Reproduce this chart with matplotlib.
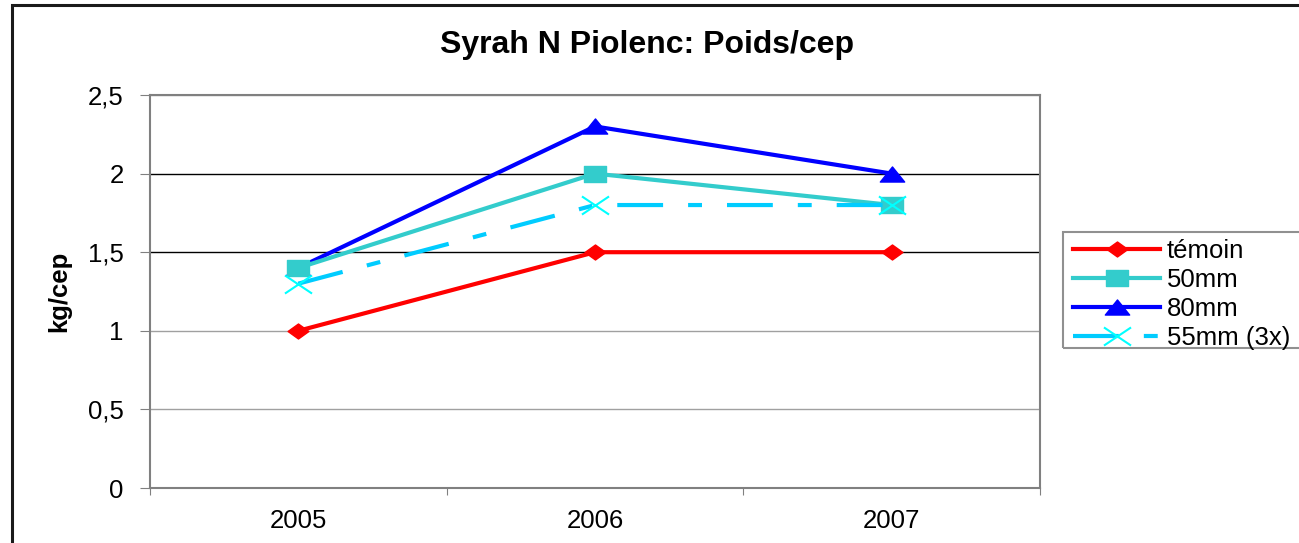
import matplotlib.pyplot as plt
from matplotlib.patches import Rectangle
from matplotlib.path import Path

plt.rcParams['font.family'] = ['Liberation Sans', 'DejaVu Sans']
plt.rcParams['lines.scale_dashes'] = False

years = ['2005', '2006', '2007']
temoin = [1.0, 1.5, 1.5]
mm50 = [1.4, 2.0, 1.8]
mm80 = [1.4, 2.3, 2.0]
mm55_3x = [1.3, 1.8, 1.8]
yticks = [0, 0.5, 1, 1.5, 2, 2.5]
ytick_labels = ['0', '0,5', '1', '1,5', '2', '2,5']

# the original chart is stretched sideways, so the markers are too
diamond = Path([(-1, 0), (0, 0.72), (1, 0), (0, -0.72), (-1, 0)], closed=True)
square = Path([(-1, -0.66), (1, -0.66), (1, 0.66), (-1, 0.66), (-1, -0.66)], closed=True)
triangle = Path([(-1, -0.62), (1, -0.62), (0, 0.62), (-1, -0.62)], closed=True)
cross = Path([(-1, -0.67), (1, 0.67), (-1, 0.67), (1, -0.67)],
             [Path.MOVETO, Path.LINETO, Path.MOVETO, Path.LINETO])

fig = plt.figure(figsize=(12.99, 5.43), dpi=100)
ax = fig.add_axes([150 / 1299, 1 - 488 / 543, 890 / 1299, 393 / 543])

# outer chart frame (cut off at right and bottom like the original)
fig.patches.append(Rectangle((12 / 1299, -0.05), 1.1, 1 - 5 / 543 + 0.05,
                             transform=fig.transFigure, fill=False,
                             edgecolor='#1a1a1a', linewidth=2.2))
# legend frame, also running off the right edge
fig.patches.append(Rectangle((1063 / 1299, 1 - 348 / 543), 0.3, 116 / 543,
                             transform=fig.transFigure, fill=False,
                             edgecolor='#909090', linewidth=1.5))

x = range(len(years))
lw = 3.0
ax.plot(x, temoin, color='#ff0000', lw=lw, marker=diamond, ms=15,
        label='témoin', zorder=4)
ax.plot(x, mm50, color='#33cccc', lw=lw, marker=square, ms=16.5,
        label='50mm', zorder=3)
ax.plot(x, mm80, color='#0000ff', lw=lw, marker=triangle, ms=17.5,
        label='80mm', zorder=2)
l55, = ax.plot(x, mm55_3x, color='#00ccff', lw=lw, marker=cross, ms=19.5,
               mec='#00ffff', mfc='none', mew=1.5, label='55mm (3x)', zorder=5)
l55.set_dashes((33, 18, 10, 18))
l55.set_dash_capstyle('butt')

ax.set_xlim(-0.5, 2.5)
ax.set_ylim(0, 2.5)
ax.set_xticks([-0.5, 0.5, 1.5, 2.5])
ax.set_xticklabels([])
ax.set_xticks(list(x), minor=True)
ax.set_xticklabels(years, minor=True)
ax.tick_params(axis='x', which='major', length=5, color='#808080', direction='out')
ax.tick_params(axis='x', which='minor', length=0, labelsize=18.5, pad=15)
ax.set_yticks(yticks)
ax.set_yticklabels(ytick_labels)
ax.tick_params(axis='y', length=7, color='#808080', labelsize=18.5, pad=12)

ax.yaxis.grid(True, linewidth=1.0)
for val, gl in zip(yticks, ax.get_ygridlines()):
    gl.set_color('black' if val in (1.5, 2) else '#a0a0a0')
ax.set_axisbelow(True)

for side in ['left', 'bottom', 'top', 'right']:
    ax.spines[side].set_color('#808080')
    ax.spines[side].set_linewidth(1.5)

ax.set_ylabel('kg/cep', fontsize=18.5, fontweight='bold', labelpad=12)
fig.text(647 / 1299, 1 - 45 / 543, 'Syrah N Piolenc: Poids/cep',
         fontsize=23, fontweight='bold', ha='center', va='center')

leg = fig.legend(loc='upper left', bbox_to_anchor=(1073 / 1299, 1 - 239 / 543),
                 fontsize=18.5, frameon=False, handlelength=3.4,
                 borderpad=0, labelspacing=0.2, handletextpad=0.25,
                 borderaxespad=0)

fig.savefig('out.png', dpi=100)
